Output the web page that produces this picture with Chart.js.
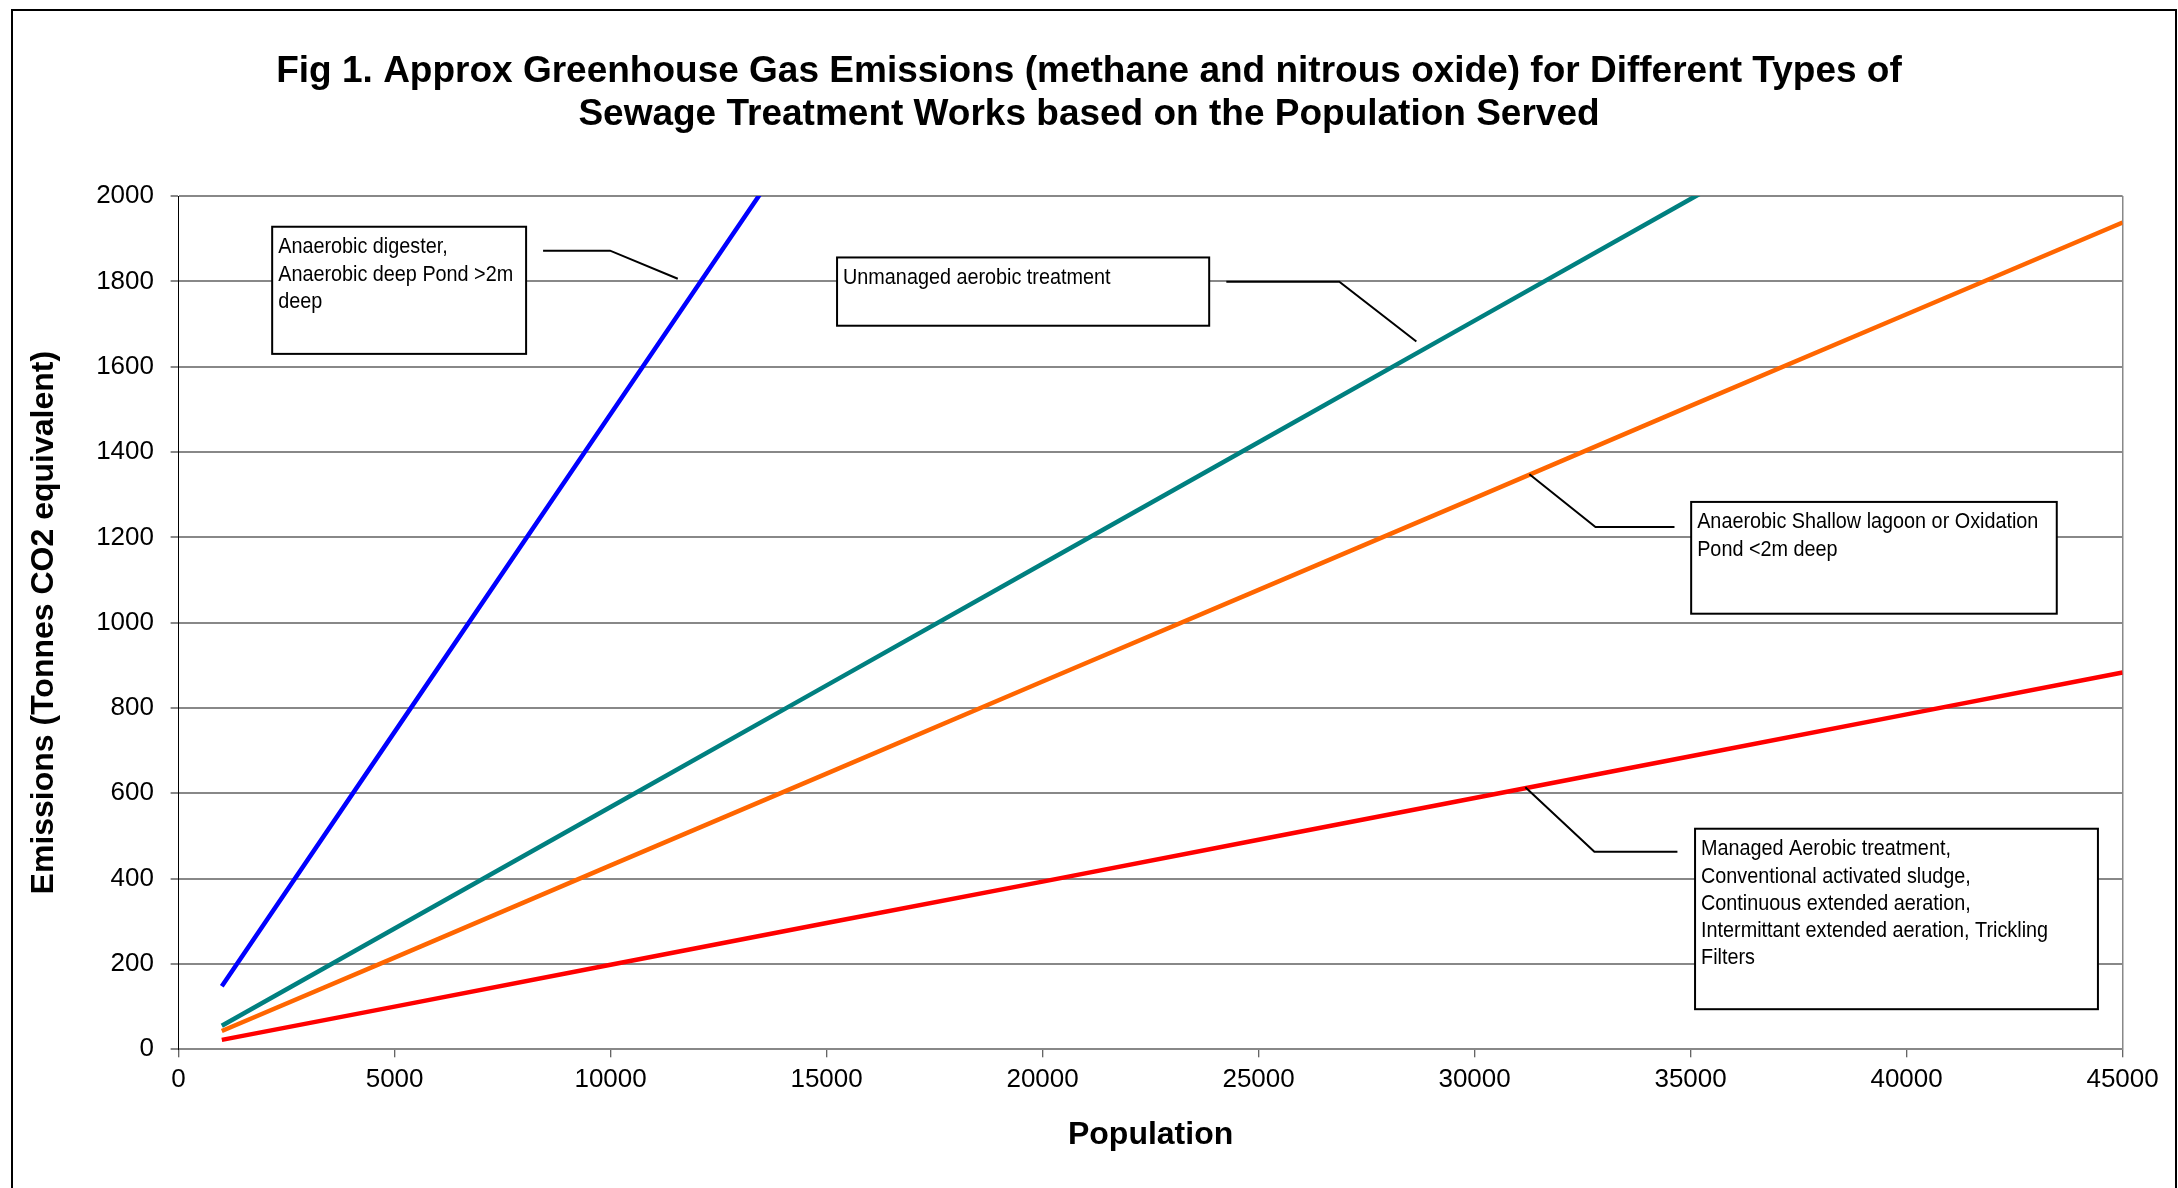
<!DOCTYPE html>
<html>
<head>
<meta charset="utf-8">
<title>Greenhouse gas emissions by sewage treatment type</title>
<script src="https://cdn.jsdelivr.net/npm/chart.js@4.4.1/dist/chart.umd.min.js"></script>
<style>
  html, body { margin: 0; padding: 0; background: #fff; overflow: hidden; }
  #frame { position: absolute; left: 11px; top: 9px; width: 2162px; height: 1300px; border: 2px solid #000; border-bottom: none; }
  #chart { position: absolute; left: 0; top: 0; }
</style>
</head>
<body>
<div id="frame"></div>
<canvas id="chart" width="2178" height="1188"></canvas>
<script>
// population served (x) and emissions in tonnes CO2 equivalent (y)
const populations = [1000, 5000, 10000, 15000, 20000, 25000, 30000, 35000, 40000, 45000]
const anaerobicDigester = [148, 744, 1489, 2234]
const unmanagedAerobic = [55, 283, 568, 853, 1138, 1423, 1708, 1993, 2278]
const shallowLagoon = [43, 215, 431, 646, 862, 1077, 1292, 1508, 1723, 1938]
const managedAerobic = [22, 100, 198, 296, 393, 491, 589, 687, 785, 883]

const xTicks = [0, 5000, 10000, 15000, 20000, 25000, 30000, 35000, 40000, 45000]
const yTicks = [0, 200, 400, 600, 800, 1000, 1200, 1400, 1600, 1800, 2000]

const calloutLabels = [
  ["Anaerobic digester,", "Anaerobic deep Pond >2m", "deep"],
  ["Unmanaged aerobic treatment"],
  ["Anaerobic Shallow lagoon or Oxidation", "Pond <2m deep"],
  ["Managed Aerobic treatment,", "Conventional activated sludge,", "Continuous extended aeration,",
   "Intermittant extended aeration, Trickling", "Filters"]
]

// callout boxes and leader lines, in data units (population, emissions)
const calloutLayout = [
  { box: [2166, 8044, 1928, 1630], leader: [[11555, 1806], [9988, 1872], [8437, 1872]] },
  { box: [15242, 23856, 1856, 1696], leader: [[28652, 1659], [26869, 1799], [24253, 1799]] },
  { box: [35013, 43476, 1283, 1021], leader: [[31269, 1348], [32798, 1224], [34627, 1224]] },
  { box: [35103, 44429, 517, 94], leader: [[31175, 614], [32773, 463], [34695, 463]] }
]

const toPoints = values => values.map((v, i) => ({ x: populations[i], y: v }))

const callouts = {
  id: "callouts",
  afterDatasetsDraw(chart) {
    const { ctx, scales: { x, y } } = chart
    ctx.save()
    ctx.strokeStyle = "#000"
    ctx.lineWidth = 2
    calloutLayout.forEach((c, i) => {
      ctx.beginPath()
      c.leader.forEach(([px, py], j) => {
        const X = x.getPixelForValue(px)
        const Y = y.getPixelForValue(py)
        if (j) ctx.lineTo(X, Y)
        else ctx.moveTo(X, Y)
      })
      ctx.stroke()

      const left = x.getPixelForValue(c.box[0])
      const right = x.getPixelForValue(c.box[1])
      const top = y.getPixelForValue(c.box[2])
      const bottom = y.getPixelForValue(c.box[3])
      ctx.fillStyle = "#fff"
      ctx.fillRect(left, top, right - left, bottom - top)
      ctx.strokeRect(left, top, right - left, bottom - top)

      ctx.fillStyle = "#000"
      ctx.font = "22px 'Liberation Sans', Arial, sans-serif"
      ctx.textAlign = "left"
      ctx.textBaseline = "middle"
      calloutLabels[i].forEach((line, k) => {
        ctx.save()
        ctx.translate(left + 6, top + 20.5 + k * 27.3)
        ctx.scale(0.9, 1)
        ctx.fillText(line, 0, 0)
        ctx.restore()
      })
    })
    ctx.restore()
  }
}

Chart.defaults.font.family = "'Liberation Sans', Arial, sans-serif"
Chart.defaults.color = "#000"

const line = (label, color, values) => ({
  label,
  data: toPoints(values),
  showLine: true,
  borderColor: color,
  backgroundColor: color,
  borderWidth: 4.5,
  pointRadius: 0,
  clip: 0
})

new Chart(document.getElementById("chart"), {
  type: "scatter",
  data: {
    datasets: [
      line("Anaerobic digester, Anaerobic deep Pond >2m deep", "#0000FF", anaerobicDigester),
      line("Unmanaged aerobic treatment", "#008080", unmanagedAerobic),
      line("Anaerobic Shallow lagoon or Oxidation Pond <2m deep", "#FF6600", shallowLagoon),
      line("Managed Aerobic treatment", "#FF0000", managedAerobic)
    ]
  },
  options: {
    responsive: false,
    animation: false,
    layout: { padding: { left: 20, right: 20, top: 0, bottom: 0 } },
    plugins: {
      legend: { display: false },
      tooltip: { enabled: false },
      title: {
        display: true,
        text: [
          "Fig 1. Approx Greenhouse Gas Emissions (methane and nitrous oxide) for Different Types of",
          "Sewage Treatment Works based on the Population Served"
        ],
        font: { size: 37, weight: "bold", lineHeight: 1.149 },
        color: "#000",
        padding: { top: 51, bottom: 60 }
      }
    },
    scales: {
      x: {
        type: "linear",
        min: 0,
        max: 45000,
        afterBuildTicks: s => { s.ticks = xTicks.map(v => ({ value: v })) },
        ticks: { font: { size: 26 }, padding: 7, maxRotation: 0, autoSkip: false, callback: v => String(v) },
        grid: {
          color: c => (c.tick && c.tick.value === 45000 ? "#888" : "rgba(0,0,0,0)"),
          lineWidth: 1.5,
          tickColor: "#333",
          tickWidth: 1,
          tickLength: 8
        },
        border: { color: "#888", width: 2 },
        title: { display: true, text: "Population", font: { size: 32, weight: "bold" }, padding: { top: 0, bottom: 33.5 } },
        afterFit: s => { s.height = 138.7 }
      },
      y: {
        min: 0,
        max: 2000,
        afterBuildTicks: s => { s.ticks = yTicks.map(v => ({ value: v })) },
        ticks: { font: { size: 26 }, padding: 16.6, autoSkip: false, callback: v => String(v) },
        grid: { color: "#888", lineWidth: 2, tickLength: 8 },
        border: { color: "#000", width: 1 },
        title: { display: true, text: "Emissions (Tonnes CO2 equivalent)", font: { size: 32, weight: "bold" }, padding: { top: 4.8, bottom: 0 } },
        afterFit: s => { s.width = 158.6 }
      },
      y2: {
        position: "right",
        display: true,
        grid: { display: false },
        ticks: { display: false },
        border: { display: false },
        afterFit: s => { s.width = 35.4 }
      }
    }
  },
  plugins: [callouts]
})
</script>
</body>
</html>
